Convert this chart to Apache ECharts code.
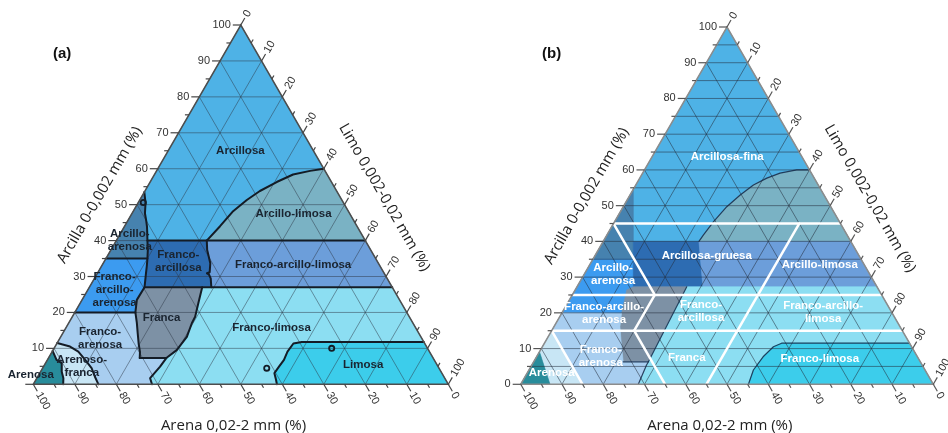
<!DOCTYPE html>
<html>
<head>
<meta charset="utf-8">
<script src="https://cdn.jsdelivr.net/npm/echarts@6/dist/echarts.min.js"></script>
<style>
  html, body { margin: 0; padding: 0; background: #fff; }
  #chart { width: 948px; height: 433px; }
</style>
</head>
<body>
<div id="chart"></div>
<script>
// Two soil-texture triangles. Every point is [silt %, clay %]; sand = 100 - silt - clay.

// ---------- axis ticks ----------
const TICKS = [0, 10, 20, 30, 40, 50, 60, 70, 80, 90, 100];
const MINOR_TICKS = [5, 15, 25, 35, 45, 55, 65, 75, 85, 95];
const AXIS_TITLES = ['Arcilla 0-0,002 mm (%)', 'Limo 0,002-0,02 mm (%)', 'Arena 0,02-2 mm (%)'];
const TRIANGLE = [[0, 0], [100, 0], [0, 100]];

// ---------- panel (a): classes ----------
const A_ARCILLO_LIMOSA = [[21.8, 40], [23, 44], [24, 48], [25.8, 51.3], [27.7, 53.8], [30.5, 56.3], [33.4, 58.4], [37, 59.4], [40, 60], [60, 40]];
const A_FRANCO_ARCILLO_LIMOSA = [[21.8, 40], [60, 40], [73, 27], [29.4, 27], [28, 29.5], [27, 30.9], [25.8, 33.7], [23.2, 37.4]];
const A_FRANCO_ARCILLOSA = [[7.5, 40], [21.8, 40], [23.2, 37.4], [25.8, 33.7], [27, 30.9], [28, 29.5], [29.4, 27], [13.3, 27], [11.7, 30.9], [10, 35]];
const A_ARCILLO_ARENOSA = [[0, 35], [0, 53.5], [3.1, 47.6], [5.5, 43.8], [7.5, 40], [10, 35]];
const A_FRANCO_ARCILLO_ARENOSA = [[0, 20], [0, 35], [10, 35], [11.7, 30.9], [13.3, 27], [13.2, 23.5], [14.6, 20]];
const A_FRANCA = [[13.3, 27], [27.2, 27], [28.5, 22.5], [29.6, 18.8], [29.7, 17], [30.4, 13.2], [29.8, 9.5], [28.4, 7.3], [22, 7.3], [18, 14.3], [14.6, 20], [13.2, 23.5]];
const A_FRANCO_ARENOSA = [[0, 20], [14.6, 20], [18, 14.3], [22, 7.3], [28.4, 7.3], [28.1, 4.9], [27.3, 1.7], [28.6, 0], [15.7, 0], [13.8, 2.1], [11.8, 4.5], [9.1, 6.8], [6.3, 9.1], [3.6, 10.5], [0, 11.5]];
const A_ARENOSO_FRANCA = [[0, 9.3], [0, 11.5], [3.6, 10.5], [6.3, 9.1], [9.1, 6.8], [11.8, 4.5], [13.8, 2.1], [15.7, 0], [7.2, 0], [6.4, 1.7], [5.1, 3.5], [3.9, 5.9], [2.2, 6.8]];
const A_ARENOSA = [[0, 0], [0, 9.3], [2.2, 6.8], [3.9, 5.9], [5.1, 3.5], [6.4, 1.7], [7.2, 0]];
const A_FRANCO_LIMOSA = [[27.2, 27], [73, 27], [88.2, 11.8], [58.8, 11.8], [57, 11.35], [56.7, 9.1], [57, 6.8], [56.75, 4.9], [56.55, 3.1], [57.9, 1.2], [58.7, 0], [28.6, 0], [27.3, 1.7], [28.1, 4.9], [28.4, 7.3], [29.8, 9.5], [30.4, 13.2], [29.7, 17], [29.6, 18.8], [28.5, 22.5]];
const A_LIMOSA = [[58.8, 11.8], [88.2, 11.8], [100, 0], [58.7, 0], [57.9, 1.2], [56.55, 3.1], [56.75, 4.9], [57, 6.8], [56.7, 9.1], [57, 11.35]];

// ---------- panel (a): class borders ----------
const A_LINE_ARCILLO_LIMOSA = [[21.8, 40], [23, 44], [24, 48], [25.8, 51.3], [27.7, 53.8], [30.5, 56.3], [33.4, 58.4], [37, 59.4], [40, 60]];
const A_LINE_CLAY40 = [[7.5, 40], [60, 40]];
const A_LINE_FA_EAST = [[21.8, 40], [23.2, 37.4], [25.8, 33.7], [26.9, 31.2], [26.4, 30.9], [27, 30.6], [28, 29.5], [29.4, 27]];
const A_LINE_CLAY27 = [[13.3, 27], [73, 27]];
const A_LINE_WEST = [[0, 53.5], [1.8, 50.5], [3.1, 47.6], [4.4, 45.6], [5.5, 43.8], [6.3, 42.3], [7.5, 40], [8.9, 37.4], [10, 35], [10.9, 32.9], [11.7, 30.9], [13.3, 27], [13.2, 23.5], [14.6, 20], [16.4, 17.1], [18, 14.3], [19.8, 11.2], [21.2, 9], [22, 7.3]];
const A_LINE_CLAY35 = [[0, 35], [10, 35]];
const A_LINE_CLAY20 = [[0, 20], [14.6, 20]];
const A_LINE_FRANCA = [[22, 7.3], [28.4, 7.3], [29.8, 9.5], [30.4, 13.2], [29.7, 17], [29.6, 18.8], [28.5, 22.5], [27.2, 27]];
const A_LINE_FRANCO_ARENOSA = [[28.4, 7.3], [28.1, 4.9], [27.3, 1.7], [28.6, 0]];
const A_LINE_ARENOSO_FRANCA = [[0, 11.5], [3.6, 10.5], [6.3, 9.1], [9.1, 6.8], [11.8, 4.5], [13.8, 2.1], [15.7, 0]];
const A_LINE_ARENOSA = [[0, 9.3], [2.2, 6.8], [3.9, 5.9], [5.1, 3.5], [6.4, 1.7], [7.2, 0]];
const A_LINE_LIMOSA = [[88.2, 11.8], [58.8, 11.8], [57, 11.35], [56.7, 9.1], [57, 6.8], [56.75, 4.9], [56.55, 3.1], [57.9, 1.2], [58.7, 0]];
const A_LOOPS = [[1.2, 50.6], [66.9, 10], [54, 4.5]];

// ---------- panel (a): class names ----------
const A_LABELS = [
  ['Arcillosa', 17.4, 65],
  ['Arcillo-limosa', 39, 47.4],
  ['Arcillo-\narenosa', 3.2, 40.1],
  ['Franco-\narcillosa', 17.9, 34.1],
  ['Franco-arcillo-limosa', 46, 33.2],
  ['Franco-\narcillo-\narenosa', 6.5, 26.2],
  ['Franca', 21.7, 18.4],
  ['Franco-\narenosa', 9.7, 12.8],
  ['Franco-limosa', 49.6, 15.6],
  ['Arenoso-\nfranca', 9.2, 5],
  ['Limosa', 76.8, 5.4],
  ['Arenosa', -1.9, 2.6]
];

// ---------- panel (b): shaded zones ----------
const B_STEEL = [[0, 35], [0, 54.6], [9.8, 35]];
const B_BRIGHT = [[0, 20], [0, 35], [9.8, 35], [13.65, 27.3], [12.5, 26.4], [14.5, 19.9]];
const B_DARK = [[7.3, 40], [23.2, 40], [30.5, 27.3], [13.65, 27.3]];
const B_TEAL_GREY = [[23.2, 40], [23.4, 41.8], [24, 45.5], [25.1, 49.7], [26.7, 53], [28.5, 55.8], [30.8, 57.7], [33.3, 59.1], [36.9, 60], [40, 60], [60, 40]];
const B_PERIWINKLE = [[23.2, 40], [60, 40], [72.7, 27.3], [30.5, 27.3]];
const B_GREY = [[13.65, 27.3], [26.6, 27.3], [27.8, 6.3], [21.7, 6.3], [19.2, 10.5], [16, 16.1], [14.5, 19.9], [12.5, 26.4]];
const B_LIGHT_CYAN = [[26.6, 27.3], [72.7, 27.3], [88.5, 11.5], [57.5, 11.5], [56, 10.5], [54.9, 7.7], [54.4, 4], [55.2, 0], [28.5, 0], [27.8, 5.4], [27.8, 6.3]];
const B_CYAN = [[57.5, 11.5], [88.5, 11.5], [100, 0], [55.2, 0], [54.4, 4], [54.9, 7.7], [56, 10.5]];
const B_PALE = [[0, 20], [14.5, 19.9], [16, 16.1], [19.2, 10.5], [21.7, 6.3], [27.8, 6.3], [27.8, 5.4], [28.5, 0], [15, 0], [0, 15]];
const B_VERY_PALE = [[0, 9.1], [0, 15], [15, 0], [7.1, 0]];
const B_TEAL = [[0, 0], [0, 9.1], [7.1, 0]];

// ---------- panel (b): zone edges and class borders ----------
const B_EDGE_CURVE = [[23.2, 40], [23.4, 41.8], [24, 45.5], [25.1, 49.7], [26.7, 53], [28.5, 55.8], [30.8, 57.7], [33.3, 59.1], [36.9, 60], [40, 60]];
const B_EDGE_CYAN = [[88.5, 11.5], [57.5, 11.5], [56, 10.5], [54.9, 7.7], [54.4, 4], [55.2, 0]];
const B_EDGE_GREY = [[21.7, 6.3], [27.8, 6.3], [26.6, 27.3]];
const B_EDGE_PALE = [[27.8, 6.3], [27.8, 5.4], [28.5, 0]];
const B_CLASS_CLAY45 = [[0, 45], [55, 45]];
const B_CLASS_CLAY25 = [[0, 25], [75, 25]];
const B_CLASS_CLAY15 = [[0, 15], [85, 15]];
const B_CLASS_SAND55 = [[0, 45], [20, 25]];
const B_CLASS_SILT20 = [[20, 25], [20, 15]];
const B_CLASS_SAND65 = [[20, 15], [35, 0]];
const B_CLASS_SILT45 = [[45, 45], [45, 0]];
const B_CLASS_SAND85 = [[0, 15], [15, 0]];

// ---------- panel (b): class names ----------
const B_LABELS = [
  ['Arcillosa-fina', 18.2, 63.7],
  ['Arcillosa-gruesa', 27.15, 35.9],
  ['Arcillo-limosa', 55.8, 33.4],
  ['Arcillo-\narenosa', 6.95, 30.9],
  ['Franco-arcillo-\narenosa', 10.2, 20],
  ['Franco-\narcillosa', 33.55, 20.3],
  ['Franco-arcillo-\nlimosa', 63.2, 20.2],
  ['Franco-\narenosa', 15.5, 7.8],
  ['Franca', 36.6, 7.3],
  ['Franco-limosa', 69, 7],
  ['Arenosa', 5.9, 3.25]
];

// ---------- styling ----------
const FILL = {
  arcillosa: '#4eb2e6', arcilloLimosa: '#7ab2c4', francoArcilloLimosa: '#6c9eda',
  francoArcillosa: '#2d6cb2', arcilloArenosa: '#4682af', francoArcilloArenosa: '#3c9bf0',
  franca: '#7d91a5', francoArenosa: '#a8cef0', arenosoFranca: '#c8e6f5',
  arenosa: '#288c9b', francoLimosa: '#8cdef2', limosa: '#3ccdeb'
};
const LABEL_FONT = 'bold 11.5px "Liberation Sans", Arial, sans-serif';
const TICK_FONT = '11px "Liberation Sans", Arial, sans-serif';
const TITLE_FONT = '15px "Open Sans", "Liberation Sans", sans-serif';

const A_REGIONS = [
  ['arcillosa', TRIANGLE], ['arcilloLimosa', A_ARCILLO_LIMOSA], ['francoArcilloLimosa', A_FRANCO_ARCILLO_LIMOSA],
  ['francoArcillosa', A_FRANCO_ARCILLOSA], ['arcilloArenosa', A_ARCILLO_ARENOSA],
  ['francoArcilloArenosa', A_FRANCO_ARCILLO_ARENOSA], ['franca', A_FRANCA], ['francoArenosa', A_FRANCO_ARENOSA],
  ['arenosoFranca', A_ARENOSO_FRANCA], ['arenosa', A_ARENOSA], ['francoLimosa', A_FRANCO_LIMOSA], ['limosa', A_LIMOSA]
];
const A_BORDERS = [A_LINE_ARCILLO_LIMOSA, A_LINE_CLAY40, A_LINE_FA_EAST, A_LINE_CLAY27, A_LINE_WEST, A_LINE_CLAY35,
  A_LINE_CLAY20, A_LINE_FRANCA, A_LINE_FRANCO_ARENOSA, A_LINE_ARENOSO_FRANCA, A_LINE_ARENOSA, A_LINE_LIMOSA];

const B_REGIONS = [
  ['arcillosa', TRIANGLE], ['arcilloArenosa', B_STEEL], ['francoArcilloArenosa', B_BRIGHT], ['francoArcillosa', B_DARK],
  ['arcilloLimosa', B_TEAL_GREY], ['francoArcilloLimosa', B_PERIWINKLE], ['franca', B_GREY],
  ['francoLimosa', B_LIGHT_CYAN], ['limosa', B_CYAN], ['francoArenosa', B_PALE], ['arenosoFranca', B_VERY_PALE],
  ['arenosa', B_TEAL]
];
const B_EDGES = [B_EDGE_CURVE, B_EDGE_CYAN, B_EDGE_GREY, B_EDGE_PALE];
const B_CLASS_LINES = [B_CLASS_CLAY45, B_CLASS_CLAY25, B_CLASS_CLAY15, B_CLASS_SAND55, B_CLASS_SILT20,
  B_CLASS_SAND65, B_CLASS_SILT45, B_CLASS_SAND85];

// ---------- geometry helpers ----------
const SQ = Math.sqrt(3) / 2;
const DIR = { left: [-1, 0], right: [0.5, -SQ], bottom: [0.5, SQ] };
const ROT = { left: 0, right: Math.PI / 3, bottom: -Math.PI / 3 };

// ternary [silt, clay] -> cartesian [x, clay] on a 0..100 grid
const toXY = p => [p[0] + p[1] / 2, p[1]];
const pix = (api, p) => api.coord(toXY(p));

// straight reference lines of the ternary grid
function gridLines(clayLevels, otherLevels) {
  const segs = [];
  clayLevels.forEach(v => segs.push([[0, v], [100 - v, v]]));
  otherLevels.forEach(v => {
    segs.push([[v, 0], [v, 100 - v]]);
    segs.push([[100 - v, 0], [0, 100 - v]]);
  });
  return segs;
}

function tickItems(showLeftZero) {
  const items = [];
  const add = (v, major) => {
    const lbl = major ? String(v) : '';
    items.push({ side: 'left', pt: [0, v], major, label: (v === 0 && !showLeftZero) ? '' : lbl });
    items.push({ side: 'right', pt: [v, 100 - v], major, label: lbl });
    items.push({ side: 'bottom', pt: [100 - v, 0], major, label: lbl });
  };
  TICKS.forEach(v => add(v, true));
  MINOR_TICKS.forEach(v => add(v, false));
  return items;
}

function layer(panel, z, items, draw) {
  return {
    type: 'custom',
    coordinateSystem: 'cartesian2d',
    xAxisIndex: panel,
    yAxisIndex: panel,
    z: z,
    silent: true,
    clip: false,
    animation: false,
    data: items.map(() => [50, 50]),
    renderItem: (params, api) => draw(items[params.dataIndex], api)
  };
}

const drawRegion = (r, api) => {
  const c = FILL[r[0]];
  return { type: 'polygon', shape: { points: r[1].map(p => pix(api, p)) },
           style: { fill: c, stroke: c, lineWidth: 0.6 } };
};
const lineDrawer = (stroke, width) => (pts, api) => ({
  type: 'polyline', shape: { points: pts.map(p => pix(api, p)) },
  style: { stroke: stroke, lineWidth: width, fill: null, lineJoin: 'round', lineCap: 'round' }
});
const outlineDrawer = stroke => (pts, api) => ({
  type: 'polygon', shape: { points: pts.map(p => pix(api, p)) },
  style: { fill: null, stroke: stroke, lineWidth: 1.5 }
});
const drawLoop = (p, api) => {
  const c = pix(api, p);
  return { type: 'circle', shape: { cx: c[0], cy: c[1], r: 2.6 },
           style: { fill: null, stroke: '#141c26', lineWidth: 1.8 } };
};
const tickDrawer = stroke => (t, api) => {
  const p = pix(api, t.pt);
  const d = DIR[t.side];
  const len = t.major ? 8 : 4;
  const children = [{ type: 'line',
    shape: { x1: p[0], y1: p[1], x2: p[0] + d[0] * len, y2: p[1] + d[1] * len },
    style: { stroke: stroke, lineWidth: 1.2 } }];
  if (t.label) {
    const g = len + 2;
    children.push({ type: 'text', x: p[0] + d[0] * g, y: p[1] + d[1] * g, rotation: ROT[t.side],
      style: { text: t.label, fill: '#333', font: TICK_FONT,
               align: t.side === 'left' ? 'right' : 'left', verticalAlign: 'middle' } });
  }
  return { type: 'group', children: children };
};
const labelDrawer = color => (l, api) => {
  const c = pix(api, [l[1], l[2]]);
  return { type: 'text', x: c[0], y: c[1],
           style: { text: l[0], fill: color, font: LABEL_FONT, align: 'center',
                    verticalAlign: 'middle', lineHeight: 13 } };
};
// axis titles sit just outside the middle of each side
const drawTitle = (title, api) => {
  const i = AXIS_TITLES.indexOf(title);
  let anchor, off, rot;
  if (i === 0) { anchor = pix(api, [0, 47.5]); off = [-SQ * 37, -0.5 * 37]; rot = Math.PI / 3; }
  else if (i === 1) { anchor = pix(api, [53.3, 46.7]); off = [SQ * 38, -0.5 * 38]; rot = -Math.PI / 3; }
  else { anchor = pix(api, [48.25, 0]); off = [0, 41]; rot = 0; }
  return { type: 'text', x: anchor[0] + off[0], y: anchor[1] + off[1], rotation: rot,
           style: { text: title, fill: '#222', font: TITLE_FONT, align: 'center', verticalAlign: 'middle' } };
};

const GRID_A = gridLines(TICKS.slice(1, -1), TICKS.slice(1, -1));
const GRID_B = gridLines(TICKS.slice(1, -1).concat(MINOR_TICKS), TICKS.slice(1, -1));

const axisHidden = { type: 'value', min: 0, max: 100, show: false };

const option = {
  animation: false,
  backgroundColor: '#ffffff',
  title: [
    { text: '(a)', left: 53, top: 46, padding: 0,
      textStyle: { fontSize: 15, fontWeight: 'bold', color: '#111', fontFamily: 'Liberation Sans, Arial, sans-serif' } },
    { text: '(b)', left: 542, top: 46, padding: 0,
      textStyle: { fontSize: 15, fontWeight: 'bold', color: '#111', fontFamily: 'Liberation Sans, Arial, sans-serif' } }
  ],
  grid: [
    { left: 33.3, top: 25, width: 415, height: 359.3 },
    { left: 520.7, top: 27, width: 412.6, height: 357.3 }
  ],
  xAxis: [Object.assign({ gridIndex: 0 }, axisHidden), Object.assign({ gridIndex: 1 }, axisHidden)],
  yAxis: [Object.assign({ gridIndex: 0 }, axisHidden), Object.assign({ gridIndex: 1 }, axisHidden)],
  series: [
    // panel (a)
    layer(0, 1, A_REGIONS, drawRegion),
    layer(0, 2, GRID_A, lineDrawer('rgba(45,55,70,0.55)', 0.9)),
    layer(0, 3, A_BORDERS, lineDrawer('#141c26', 2)),
    layer(0, 3, A_LOOPS, drawLoop),
    layer(0, 4, [TRIANGLE], outlineDrawer('#4d4d4d')),
    layer(0, 5, tickItems(false), tickDrawer('#444')),
    layer(0, 6, A_LABELS, labelDrawer('#1a2430')),
    layer(0, 6, AXIS_TITLES, drawTitle),
    // panel (b)
    layer(1, 1, B_REGIONS, drawRegion),
    layer(1, 2, GRID_B, lineDrawer('rgba(35,45,60,0.6)', 0.9)),
    layer(1, 3, B_EDGES, lineDrawer('rgba(20,40,70,0.85)', 1.2)),
    layer(1, 3, B_CLASS_LINES, lineDrawer('#ffffff', 2.5)),
    layer(1, 4, [TRIANGLE], outlineDrawer('#8c8c8c')),
    layer(1, 5, tickItems(true), tickDrawer('#555')),
    layer(1, 6, B_LABELS, labelDrawer('#ffffff')),
    layer(1, 6, AXIS_TITLES, drawTitle)
  ]
};

const chart = echarts.init(document.getElementById('chart'), null, { renderer: 'canvas' });
chart.setOption(option);
</script>
</body>
</html>
